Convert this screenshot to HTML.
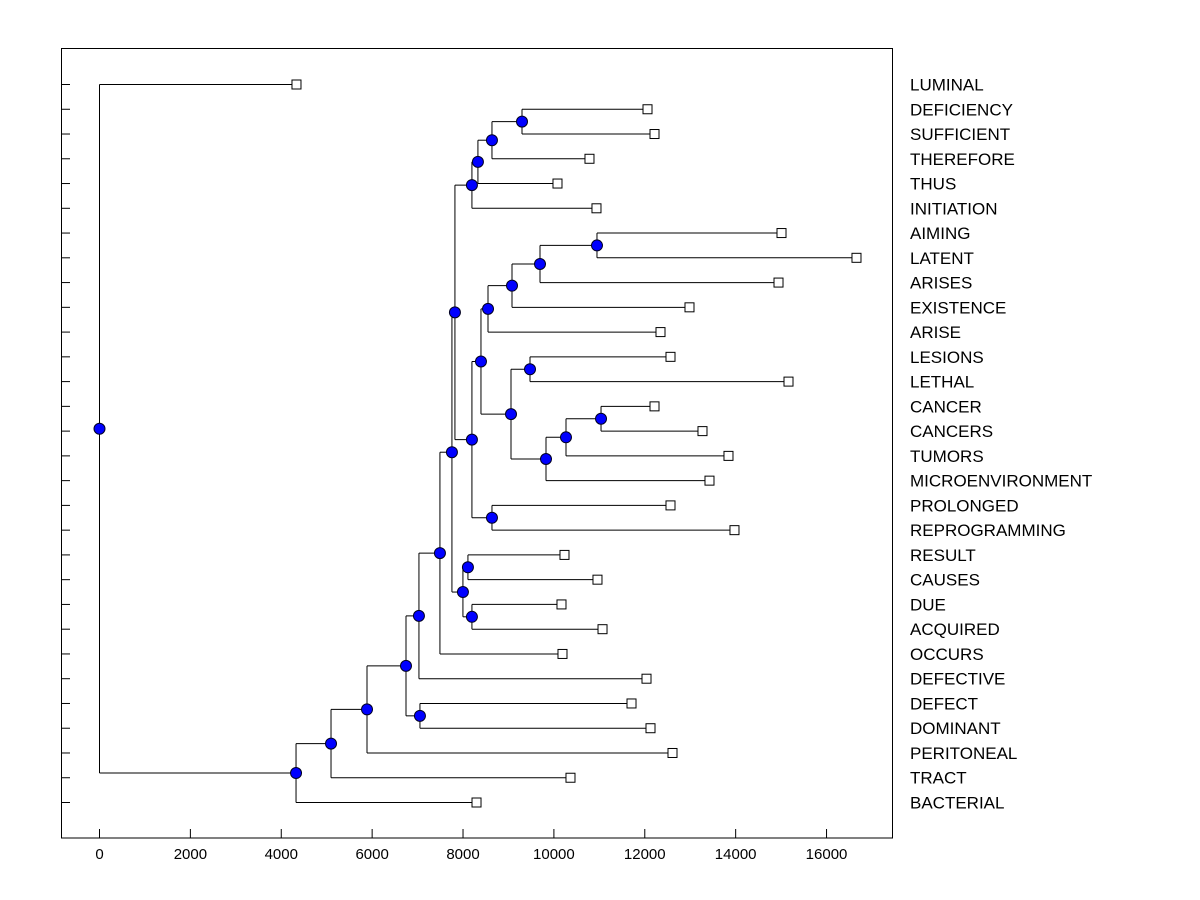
<!DOCTYPE html>
<html><head><meta charset="utf-8"><style>
html,body{margin:0;padding:0;background:#fff;}
svg{display:block;font-family:"Liberation Sans",Arial,sans-serif;}
</style></head><body>
<svg id="chart" width="1200" height="900" xmlns="http://www.w3.org/2000/svg">
<rect x="61.5" y="48.5" width="831" height="789.5" fill="none" stroke="#000" stroke-width="1"/>
<g id="marks"></g>
</svg>
<script>
const labels=["LUMINAL","DEFICIENCY","SUFFICIENT","THEREFORE","THUS","INITIATION","AIMING","LATENT","ARISES","EXISTENCE","ARISE","LESIONS","LETHAL","CANCER","CANCERS","TUMORS","MICROENVIRONMENT","PROLONGED","REPROGRAMMING","RESULT","CAUSES","DUE","ACQUIRED","OCCURS","DEFECTIVE","DEFECT","DOMINANT","PERITONEAL","TRACT","BACTERIAL"];
const leafValues=[4335,12060,12214,10783,10079,10937,15009,16659,14943,12984,12346,12566,15163,12214,13270,13842,13424,12566,13974,10233,10959,10167,11070,10189,12038,11708,12126,12610,10365,8297];
// merges: [name, childA, childB, height]; leaf refs are indices, node refs are strings
const merges=[
["n1",1,2,9298],["n2","n1",3,8637],["n3","n2",4,8328],["n4","n3",5,8196],
["a",6,7,10948],["b","a",8,9694],["c","b",9,9078],["d","c",10,8550],
["e",11,12,9474],["f",13,14,11037],["g","f",15,10266],["h","g",16,9826],
["i","e","h",9056],["j","d","i",8395],["k",17,18,8637],["l","j","k",8196],
["m","n4","l",7822],["p",19,20,8108],["q",21,22,8196],["r","p","q",7998],
["s","m","r",7756],["t","s",23,7492],["u","t",24,7030],["v",25,26,7052],
["w","u","v",6745],["x","w",27,5887],["y","x",28,5095],["z","y",29,4325],
["root",0,"z",0]];
const xTicks=[0,2000,4000,6000,8000,10000,12000,14000,16000];

const sx=v=>99.5+v*45.44/1000;
const sy=i=>84.5+i*(802-84)/29;
const NS="http://www.w3.org/2000/svg";
const g=document.getElementById('marks');
function mk(tag,attrs,parent){const e=document.createElementNS(NS,tag);for(const k in attrs)e.setAttribute(k,attrs[k]);(parent||g).appendChild(e);return e;}

labels.forEach((lb,i)=>{
  const t=mk('line',{x1:61,x2:70,y1:sy(i),y2:sy(i),stroke:'#000'});
  
  
  const tx=mk('text',{x:910,y:sy(i)+6,'font-size':17,fill:'#000'});
  tx.textContent=lb;
  
  
});
xTicks.forEach(v=>{
  const t=mk('line',{x1:sx(v),x2:sx(v),y1:829,y2:838,stroke:'#000'});
  
  
  const tx=mk('text',{x:sx(v),y:859,'font-size':15,'text-anchor':'middle',fill:'#000'});
  tx.textContent=v;
  
  
});

const nodes={};
function info(ref){ if(typeof ref==='number') return {x:sx(leafValues[ref]),y:sy(ref)}; return nodes[ref]; }
const lg=mk('g',{});
const pg=mk('g',{});
merges.forEach(([name,A,B,h])=>{
  const ca=info(A),cb=info(B);
  const px=sx(h), py=(ca.y+cb.y)/2;
  nodes[name]={x:px,y:py};
  const v=mk('line',{x1:px,x2:px,y1:ca.y,y2:cb.y,stroke:'#000'},lg);
  
  
  [ca,cb].forEach(c=>{
    const hl=mk('line',{x1:px,x2:c.x,y1:c.y,y2:c.y,stroke:'#000'},lg);
    
    
  });
});
leafValues.forEach((v,i)=>{
  const r=mk('rect',{x:sx(v)-4.5,y:sy(i)-4.5,width:9,height:9,fill:'#fff',stroke:'#000'},pg);
  
  
});
merges.forEach(([name])=>{
  const n=nodes[name];
  const c=mk('circle',{cx:n.x,cy:n.y,r:5.5,fill:'#0000ff',stroke:'#000022','stroke-width':1},pg);
  
  
});
</script>
</body></html>
